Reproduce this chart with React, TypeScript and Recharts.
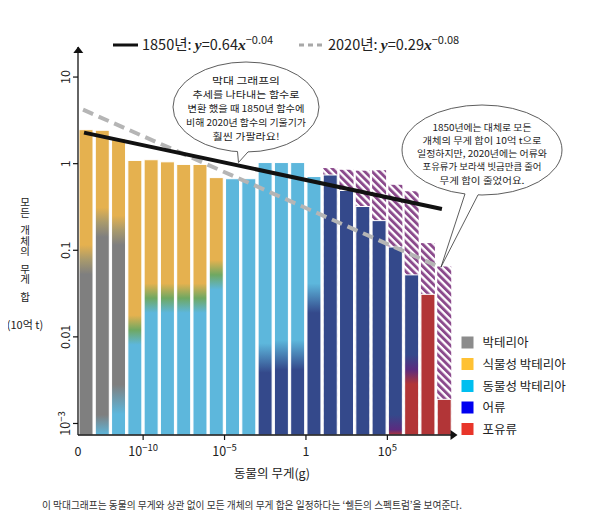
import React from 'react';
import { ComposedChart, Bar, Line, XAxis, YAxis } from 'recharts';

const FONT = "'Noto Sans CJK KR', 'Noto Sans', sans-serif";
const SERIF = "'Liberation Serif', 'DejaVu Serif', serif";

// size classes: each bar covers one decade of body mass (g), from 10^start to 10^(start+1)
const decadeStarts = [-14, -13, -12, -11, -10, -9, -8, -7, -6, -5, -4, -3, -2, -1, 0, 1, 2, 3, 4, 5, 6, 7, 8];
// total biomass (billion t) in 2020
const total2020 = [2.47, 2.43, 1.93, 1.09, 1.11, 1.05, 0.98, 0.98, 0.69, 0.67, 0.67, 1.03, 1.03, 1.03, 0.71, 0.74, 0.49, 0.32, 0.22, 0.109, 0.052, 0.031, 0.0019];
// total biomass (billion t) in 1850 where it differs (hatched part)
const total1850: (number | null)[] = [null, null, null, null, null, null, null, null, null, null, null, null, null, null, null, 0.89, 0.85, 0.83, 0.84, 0.57, 0.48, 0.121, 0.065];
// composition of each bar, from top to bottom
const layerGroups: string[][] = [
  ['plant', 'bacteria'],
  ['plant', 'bacteria', 'zoo'],
  ['plant', 'bacteria', 'zoo'],
  ['plant', 'zoo'],
  ['plant', 'zoo'],
  ['plant', 'zoo'],
  ['plant', 'zoo'],
  ['plant', 'zoo'],
  ['plant', 'zoo'],
  ['zoo'],
  ['zoo'],
  ['zoo', 'fish'],
  ['zoo', 'fish'],
  ['zoo', 'fish'],
  ['zoo', 'fish'],
  ['fish'],
  ['fish'],
  ['fish'],
  ['fish'],
  ['fish', 'mammal'],
  ['fish', 'mammal'],
  ['mammal'],
  ['mammal'],
];
// values where one group gives way to the next (top to bottom)
const layerBounds: number[][] = [
  [0.078],
  [0.21, 0.00085],
  [0.17, 0.0019],
  [0.012],
  [0.028],
  [0.028],
  [0.028],
  [0.028],
  [0.052],
  [],
  [],
  [0.0057],
  [0.0062],
  [0.0062],
  [0.028],
  [],
  [],
  [],
  [],
  [0.00085],
  [0.0042],
  [],
  [],
];

const fit1850 = [
  { x: -13.63, y: 2.28 },
  { x: 8.35, y: 0.3 },
];
const fit2020 = [
  { x: -13.69, y: 4.2 },
  { x: 8.29, y: 0.063 },
];

const xTicks = [-14, -10, -5, 0, 5];
const xTickBase = ['0', '10', '10', '1', '10'];
const xTickExp = ['', '−10', '−5', '', '5'];
const yTicks = [0.001, 0.01, 0.1, 1, 10];
const yTickBase = ['10', '0.01', '0.1', '1', '10'];
const yTickExp = ['−3', '', '', '', ''];

const legendLabels = ['박테리아', '식물성 박테리아', '동물성 박테리아', '어류', '포유류'];
const legendColors = ['#8C8C8C', '#FFC133', '#00BFF0', '#0000F0', '#E8352A'];

const Y_MIN = Math.pow(10, -3.133);
const Y_MAX = Math.pow(10, 1.347);

const COLORS: Record<string, string> = {
  plant: '#E5B14F',
  bacteria: '#7F7F7F',
  zoo: '#5DB7DC',
  fish: '#34498B',
  mammal: '#B23537',
};
const MIX: Record<string, string> = {
  'plant-zoo': '#6FA862',
  'fish-mammal': '#5B2B7F',
  'plant-bacteria': '#A99A6C',
};
const BLUR = 0.17;

const chartData = decadeStarts.map((d, i) => ({
  x: d + 0.5,
  idx: i,
  total2020: total2020[i],
  total1850: total1850[i],
}));

function gradientStops(i: number): [number, string][] {
  const top = Math.log10(total2020[i]);
  const bot = Math.log10(Y_MIN);
  const off = (lv: number) => {
    const v = (top - lv) / (top - bot);
    return Math.round(Math.max(0, Math.min(1, v)) * 10000) / 10000;
  };
  const groups = layerGroups[i];
  const bounds = layerBounds[i];
  const stops: [number, string][] = [[0, COLORS[groups[0]]]];
  for (let k = 0; k < bounds.length; k++) {
    const lb = Math.log10(bounds[k]);
    const a = groups[k];
    const c = groups[k + 1];
    stops.push([off(lb + BLUR), COLORS[a]]);
    const mid = MIX[a + '-' + c];
    if (mid) stops.push([off(lb), mid]);
    stops.push([off(lb - BLUR), COLORS[c]]);
  }
  stops.push([1, COLORS[groups[groups.length - 1]]]);
  return stops;
}

const GradientBar = (props: any) => {
  const { x, y, width, height, payload } = props;
  if (!payload || !(height > 0)) return null;
  const i = payload.idx;
  const id = `gb-${i}`;
  const stops = gradientStops(i);
  return (
    <g>
      <defs>
        <linearGradient id={id} x1="0" y1="0" x2="0" y2="1">
          {stops.map((s, k) => (
            <stop key={k} offset={s[0]} stopColor={s[1]} />
          ))}
        </linearGradient>
      </defs>
      <rect x={x} y={y} width={width} height={height} fill={`url(#${id})`} stroke="#fff" strokeWidth={1} />
    </g>
  );
};

const HatchBar = (props: any) => {
  const { x, y, width, height, payload } = props;
  if (!payload || !(height > 0)) return null;
  const id = `hb-${payload.idx}`;
  return (
    <g>
      <defs>
        <pattern id={id} patternUnits="userSpaceOnUse" width={5.2} height={5.2} patternTransform="rotate(-45)">
          <rect x={0} y={0} width={5.2} height={5.2} fill="#fff" />
          <rect x={0} y={0} width={2.9} height={5.2} fill="#8B4A8C" />
        </pattern>
      </defs>
      <rect x={x} y={y} width={width} height={height} fill={`url(#${id})`} />
    </g>
  );
};

const XTick = (props: any) => {
  const { x, y, payload } = props;
  const i = xTicks.indexOf(payload.value);
  if (i < 0) return null;
  const base = xTickBase[i];
  const exp = xTickExp[i];
  return (
    <g>
      {i > 0 && <line x1={x} x2={x} y1={y - 7} y2={y - 2} stroke="#111" strokeWidth={1.2} />}
      <text x={x} y={y + 14} textAnchor="middle" fontFamily={FONT} fontSize={12.5} fill="#222">
        {base}
        {exp ? (
          <tspan dy={-5} fontSize={9.5}>
            {exp}
          </tspan>
        ) : null}
      </text>
    </g>
  );
};

const YTick = (props: any) => {
  const { x, y, payload } = props;
  const i = yTicks.findIndex((t) => Math.abs(t - payload.value) / t < 1e-6);
  if (i < 0) return null;
  const cx = x - 6;
  return (
    <text
      transform={`translate(${cx}, ${y}) rotate(-90)`}
      textAnchor="middle"
      dy={4.5}
      fontFamily={FONT}
      fontSize={12.5}
      fill="#222"
    >
      {yTickBase[i]}
      {yTickExp[i] ? (
        <tspan dy={-5} fontSize={9.5}>
          {yTickExp[i]}
        </tspan>
      ) : null}
    </text>
  );
};

const callout1 = ['막대 그래프의', '추세를 나타내는 함수로', '변환 했을 때 1850년 함수에', '비해 2020년 함수의 기울기가', '훨씬 가팔라요!'];
const callout1Widths = [68, 107, 117, 120, 67];
const callout2 = ['1850년에는 대체로 모든', '개체의 무게 합이 10억 t으로', '일정하지만, 2020년에는 어류와', '포유류가 보라색 빗금만큼 줄어', '무게 합이 줄었어요.'];
const callout2Widths = [99, 119, 130, 119, 85];

const Callout = ({ cx, cy, rx, ry, l, r, tip, lines, widths, textY, lineGap, fontSize }: any) => (
  <g>
    <ellipse cx={cx} cy={cy} rx={rx} ry={ry} fill="#fff" stroke="#333" strokeWidth={0.8} />
    <polygon
      points={`${l[0]},${l[1] - 3} ${l[0]},${l[1]} ${tip[0]},${tip[1]} ${r[0]},${r[1]} ${r[0]},${r[1] - 3}`}
      fill="#fff"
    />
    <polyline points={`${l[0]},${l[1]} ${tip[0]},${tip[1]} ${r[0]},${r[1]}`} fill="none" stroke="#333" strokeWidth={0.8} />
    {lines.map((t: string, k: number) => (
      <text
        key={k}
        x={cx}
        y={textY + k * lineGap}
        textAnchor="middle"
        fontFamily={FONT}
        fontSize={fontSize}
        fill="#222"
        textLength={widths[k]}
        lengthAdjust="spacingAndGlyphs"
      >
        {t}
      </text>
    ))}
  </g>
);

// vertical axis title, written top-to-bottom word by word
const yLabelWords: [string, number][] = [
  ['모든', 207.5],
  ['개체의', 241],
  ['무게', 274],
  ['합', 297.5],
];

export default function App() {
  return (
    <div style={{ position: 'relative', width: 604, height: 526 }}>
      <div style={{ position: 'absolute', left: -8, top: -8, width: 604, height: 526 }}>
        <ComposedChart
          width={604}
          height={526}
          data={chartData}
          margin={{ top: 47, right: 151.5, bottom: 61, left: 28 }}
        >
          <XAxis
            xAxisId="a"
            dataKey="x"
            type="number"
            domain={[-14, 9]}
            ticks={xTicks}
            allowDataOverflow
            height={30}
            tickSize={5}
            tickLine={false}
            axisLine={{ stroke: '#111', strokeWidth: 1.3 }}
            tick={<XTick />}
            interval={0}
          />
          <XAxis xAxisId="b" dataKey="x" type="number" domain={[-14, 9]} allowDataOverflow hide />
          <XAxis xAxisId="c" dataKey="x" type="number" domain={[-14, 9]} allowDataOverflow hide />
          <YAxis
            scale="log"
            domain={[Y_MIN, Y_MAX]}
            allowDataOverflow
            ticks={yTicks}
            width={50}
            tickSize={5}
            interval={0}
            tickLine={{ stroke: '#111', strokeWidth: 1.2 }}
            axisLine={{ stroke: '#111', strokeWidth: 1.3 }}
            tick={<YTick />}
          />
          <Bar xAxisId="b" dataKey="total1850" barSize={14} shape={<HatchBar />} isAnimationActive={false} />
          <Bar xAxisId="a" dataKey="total2020" barSize={14} shape={<GradientBar />} isAnimationActive={false} />
          <Line
            xAxisId="c"
            data={fit2020}
            dataKey="y"
            type="linear"
            stroke="#B5B5B5"
            strokeWidth={4}
            strokeDasharray="11 6"
            dot={false}
            isAnimationActive={false}
          />
          <Line
            xAxisId="c"
            data={fit1850}
            dataKey="y"
            type="linear"
            stroke="#111"
            strokeWidth={4}
            dot={false}
            isAnimationActive={false}
          />
        </ComposedChart>
        <svg
          width={604}
          height={526}
          style={{ position: 'absolute', left: 0, top: 0, pointerEvents: 'none' }}
        >
          {/* axis arrows */}
          <polygon points="73.3,53 78.3,46.5 83.3,53" fill="#111" />
          <polygon points="450.5,430 457.5,435 450.5,440" fill="#111" />

          {/* top legend */}
          <line x1={113} y1={45} x2={138} y2={45} stroke="#111" strokeWidth={3} />
          <text x={142} y={50} fontFamily={FONT} fontSize={14.5} fill="#222">
            1850년:{' '}
            <tspan fontFamily={SERIF} fontStyle="italic" fontWeight="bold" fontSize={15.5}>
              y
            </tspan>
            =0.64
            <tspan fontFamily={SERIF} fontStyle="italic" fontWeight="bold" fontSize={15.5}>
              x
            </tspan>
            <tspan dy={-6} fontSize={11}>
              −0.04
            </tspan>
          </text>
          <line x1={299} y1={45} x2={323} y2={45} stroke="#A8A8A8" strokeWidth={3} strokeDasharray="5 4" />
          <text x={328} y={50} fontFamily={FONT} fontSize={14.5} fill="#222">
            2020년:{' '}
            <tspan fontFamily={SERIF} fontStyle="italic" fontWeight="bold" fontSize={15.5}>
              y
            </tspan>
            =0.29
            <tspan fontFamily={SERIF} fontStyle="italic" fontWeight="bold" fontSize={15.5}>
              x
            </tspan>
            <tspan dy={-6} fontSize={11}>
              −0.08
            </tspan>
          </text>

          {/* y-axis title */}
          {yLabelWords.map(([w, yy], k) => (
            <text
              key={k}
              x={25}
              y={yy}
              writingMode="vertical-rl"
              textAnchor="middle"
              style={{ textOrientation: 'upright' } as any}
              fontFamily={FONT}
              fontSize={10.5}
              fill="#222"
            >
              {w}
            </text>
          ))}
          <text x={25} y={329} textAnchor="middle" fontFamily={FONT} fontSize={11} fill="#222">
            (10억 t)
          </text>

          {/* x-axis title */}
          <text x={272} y={477.5} textAnchor="middle" fontFamily={FONT} fontSize={12.5} fill="#222">
            동물의 무게(g)
          </text>

          {/* category legend */}
          {legendLabels.map((lab, k) => {
            const ys = [336.5, 358, 380, 401.5, 423];
            return (
              <g key={k}>
                <rect x={461.5} y={ys[k]} width={12} height={12} fill={legendColors[k]} />
                <text x={482.5} y={ys[k] + 10.5} fontFamily={FONT} fontSize={12.5} fill="#222">
                  {lab}
                </text>
              </g>
            );
          })}

          <Callout
            cx={246}
            cy={107}
            rx={73}
            ry={45}
            l={[237.5, 151.6]}
            r={[248, 151.9]}
            tip={[238.5, 162.5]}
            lines={callout1}
            widths={callout1Widths}
            textY={83.5}
            lineGap={14.2}
            fontSize={9.5}
          />
          <Callout
            cx={482}
            cy={150}
            rx={80}
            ry={45}
            l={[465, 193.9]}
            r={[478, 194.9]}
            tip={[441, 267]}
            lines={callout2}
            widths={callout2Widths}
            textY={130.5}
            lineGap={13.3}
            fontSize={9}
          />

          {/* caption */}
          <text
            x={252}
            y={509}
            textAnchor="middle"
            fontFamily={FONT}
            fontSize={10.5}
            fill="#333"
            textLength={420}
            lengthAdjust="spacingAndGlyphs"
          >
            이 막대그래프는 동물의 무게와 상관 없이 모든 개체의 무게 합은 일정하다는 ‘쉘든의 스펙트럼’을 보여준다.
          </text>
        </svg>
      </div>
    </div>
  );
}
